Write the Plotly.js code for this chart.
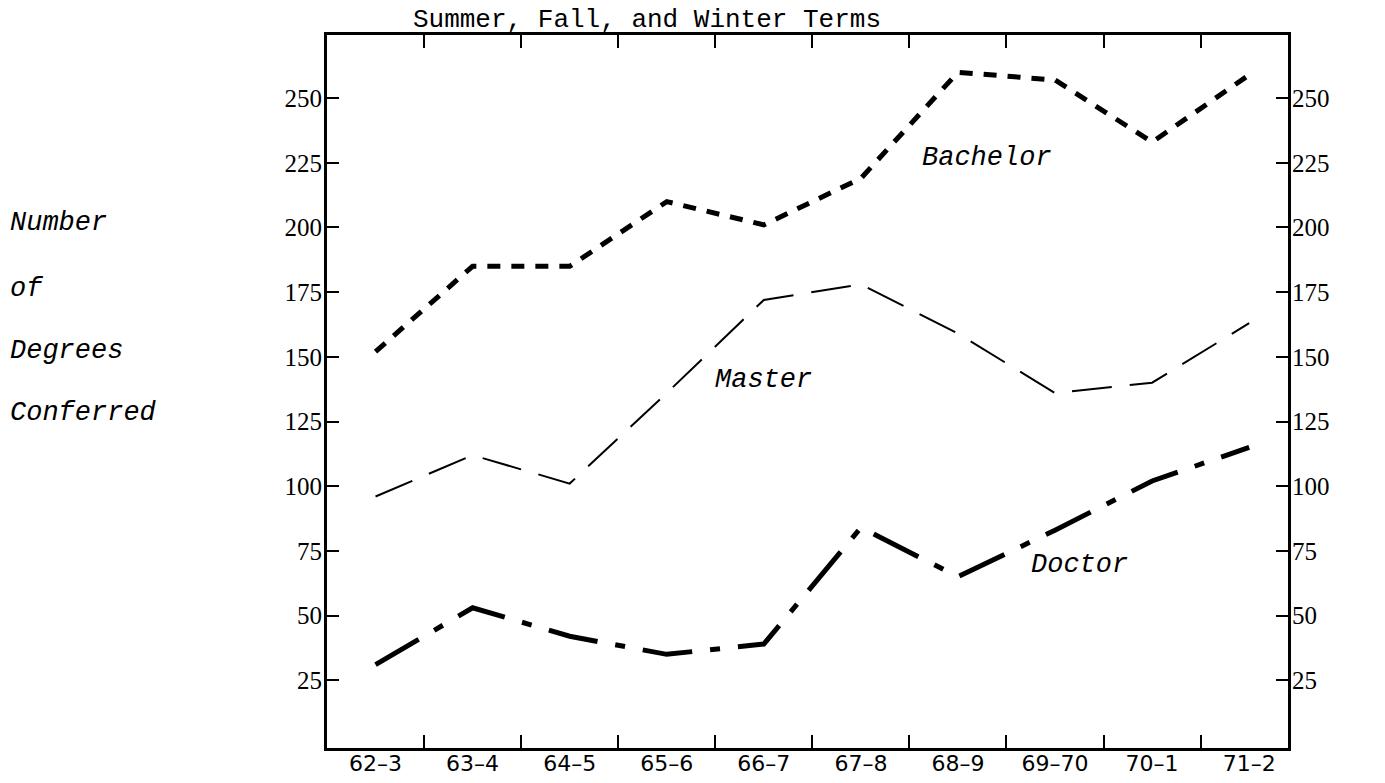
<!DOCTYPE html>
<html>
<head>
<meta charset="utf-8">
<script src="https://cdn.plot.ly/plotly-3.0.1.min.js"></script>
<style>html,body{margin:0;padding:0;background:#fff;}#chart{width:1385px;height:783px;}</style>
</head>
<body>
<div id="chart"></div>
<script>
// Data
const categories = ['62–3','63–4','64–5','65–6','66–7','67–8','68–9','69–70','70–1','71–2'];
const bachelor = [152, 185, 185, 210, 201, 219, 260, 257, 233, 259];
const master   = [96, 112, 101, 136, 172, 178, 159, 136, 140, 163];
const doctor   = [31, 53, 42, 35, 39, 84, 65, 83, 102, 115];
const yTicks   = [25, 50, 75, 100, 125, 150, 175, 200, 225, 250];
const sideLabel = ['Number', 'of', 'Degrees', 'Conferred'];

const mono = 'Liberation Mono, Courier New, monospace';
const serif = 'Liberation Serif, Times New Roman, serif';

const traces = [
  {x: categories, y: bachelor, name: 'Bachelor', mode: 'lines', yaxis: 'y2',
   line: {color: '#000', width: 5, dash: '13px,11px'}},
  {x: categories, y: master, name: 'Master', mode: 'lines',
   line: {color: '#000', width: 2, dash: '40px,18px'}},
  {x: categories, y: doctor, name: 'Doctor', mode: 'lines',
   line: {color: '#000', width: 5, dash: '50px,18px,10px,18px'}}
];

const yRange = [-1.2, 274.4];
const annotations = [];
const sideY = [223, 289, 351, 413];
sideLabel.forEach((t, i) => {
  annotations.push({text: t, xref: 'paper', yref: 'paper', x: (8 - 327) / 961, y: (748 - sideY[i]) / 713,
    xanchor: 'left', yanchor: 'middle', showarrow: false,
    font: {family: mono, size: 27, color: '#000', style: 'italic'}});
});
const lblFont = {family: mono, size: 27, color: '#000', style: 'italic'};
annotations.push({text: 'Bachelor', x: 6.3, y: 227, xref: 'x', yref: 'y', showarrow: false, font: lblFont});
annotations.push({text: 'Master', x: 4.0, y: 141, xref: 'x', yref: 'y', showarrow: false, font: lblFont});
annotations.push({text: 'Doctor', x: 7.25, y: 69.5, xref: 'x', yref: 'y', showarrow: false, font: lblFont});

const layout = {
  width: 1385, height: 783,
  margin: {l: 327, r: 97, t: 35, b: 35},
  paper_bgcolor: '#fff', plot_bgcolor: '#fff',
  showlegend: false,
  title: {text: 'Summer, Fall, and Winter Terms', x: 647 / 1385, xanchor: 'center', y: 1 - 18 / 783, yanchor: 'middle',
    font: {family: mono, size: 26, color: '#000'}},
  xaxis: {type: 'category', range: [-0.5, 9.4], showline: true, linewidth: 3, linecolor: '#000',
    mirror: 'ticks', ticks: 'inside', ticklen: 13, tickwidth: 2, tickcolor: '#000', tickson: 'boundaries',
    showgrid: false, zeroline: false, fixedrange: true, ticklabelstandoff: -6,
    tickfont: {family: 'DejaVu Sans, sans-serif', size: 22, color: '#000'}},
  yaxis: {range: yRange, tickmode: 'array', tickvals: yTicks, showline: true, linewidth: 3, linecolor: '#000',
    ticks: 'inside', ticklen: 12, tickwidth: 2, tickcolor: '#000', showgrid: false, zeroline: false,
    ticklabelstandoff: -3,
    tickfont: {family: serif, size: 25, color: '#000'}},
  yaxis2: {range: yRange, overlaying: 'y', side: 'right', tickmode: 'array', tickvals: yTicks,
    showline: true, linewidth: 3, linecolor: '#000', ticks: 'inside', ticklen: 12, tickwidth: 2, tickcolor: '#000',
    ticklabelstandoff: -4,
    showgrid: false, zeroline: false, tickfont: {family: serif, size: 25, color: '#000'}},
  annotations: annotations
};

Plotly.newPlot('chart', traces, layout, {displayModeBar: false, staticPlot: true});
</script>
</body>
</html>
